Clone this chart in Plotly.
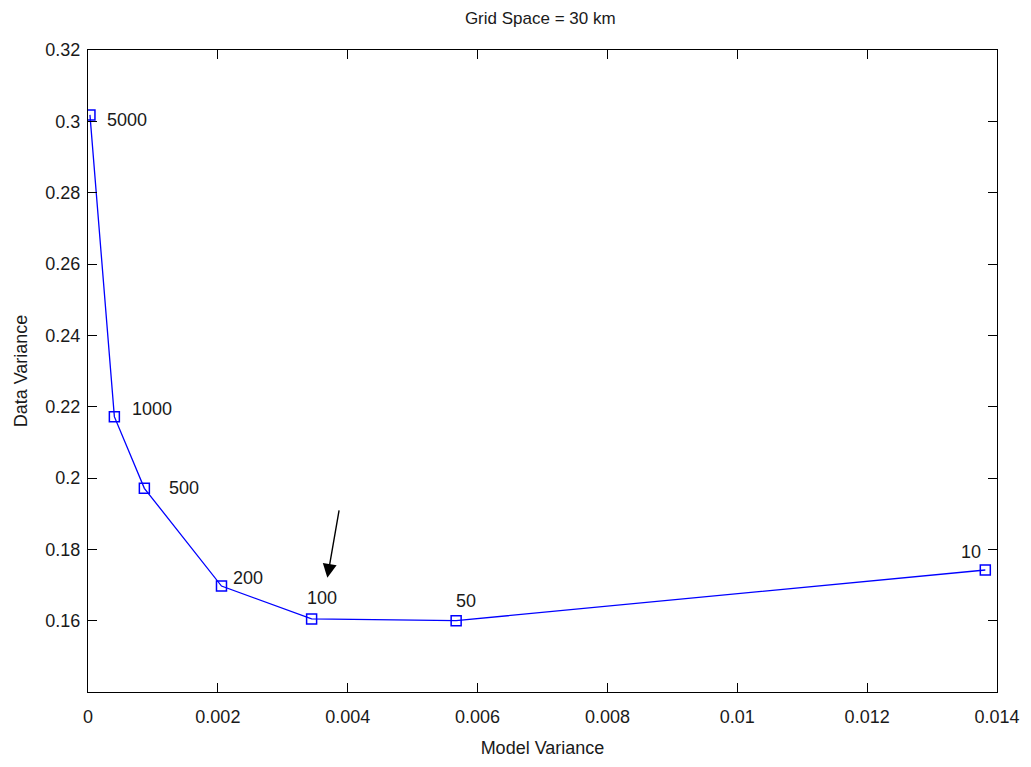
import plotly.graph_objects as go

# L-curve: model variance vs data variance for each damping value
damping = ["5000", "1000", "500", "200", "100", "50", "10"]
model_variance = [0.00003, 0.000406, 0.000868, 0.002056, 0.003444, 0.00567, 0.01382]
data_variance = [0.3018, 0.2172, 0.1971, 0.1697, 0.1605, 0.1600, 0.1742]

x_ticks = [0, 0.002, 0.004, 0.006, 0.008, 0.01, 0.012, 0.014]
x_tick_text = ["0", "0.002", "0.004", "0.006", "0.008", "0.01", "0.012", "0.014"]
y_ticks = [0.16, 0.18, 0.2, 0.22, 0.24, 0.26, 0.28, 0.3, 0.32]
y_tick_text = ["0.16", "0.18", "0.2", "0.22", "0.24", "0.26", "0.28", "0.3", "0.32"]

# pixel offsets of each damping label from its marker (xanchor, xshift, yshift)
label_offsets = {
    "5000": ("left", 15, -5),
    "1000": ("left", 16, 8),
    "500": ("left", 23, 0),
    "200": ("left", 10, 8),
    "100": ("center", 10, 21),
    "50": ("center", 10, 20),
    "10": ("center", -14, 18),
}

FONT = "Liberation Sans"
TEXT = "#1a1a1a"

fig = go.Figure()
fig.add_trace(go.Scatter(
    x=model_variance, y=data_variance,
    mode="lines+markers",
    line=dict(color="#0000ff", width=1.3),
    marker=dict(symbol="square-open", size=10, color="#0000ff",
                line=dict(width=1.5, color="#0000ff")),
    showlegend=False, hoverinfo="skip",
))

annotations = []
for name, xv, yv in zip(damping, model_variance, data_variance):
    anchor, dx, dy = label_offsets[name]
    annotations.append(dict(
        x=xv, y=yv, xref="x", yref="y", text=name, showarrow=False,
        xanchor=anchor, yanchor="middle", xshift=dx, yshift=dy,
        font=dict(family=FONT, size=18, color=TEXT),
    ))

# arrow pointing at the chosen damping value
annotations.append(dict(
    x=0.003686, y=0.1720, xref="x", yref="y", text="",
    showarrow=True, ax=12, ay=-69, axref="pixel", ayref="pixel",
    arrowhead=2, arrowsize=2.0, arrowwidth=1.4, arrowcolor="#000000",
))

axis_common = dict(
    showgrid=False, zeroline=False, showline=True, linecolor="#000000",
    linewidth=1.3, mirror="ticks", ticks="inside", ticklen=9,
    tickwidth=1.3, tickcolor="#000000",
    tickfont=dict(family=FONT, size=18, color=TEXT),
)

fig.update_layout(
    width=1031, height=767,
    paper_bgcolor="#ffffff", plot_bgcolor="#ffffff",
    margin=dict(l=88, r=34, t=50, b=75),
    title=dict(text="Grid Space = 30 km", x=0.524, xanchor="center",
               y=0.977, yanchor="middle",
               font=dict(family=FONT, size=17, color=TEXT)),
    xaxis=dict(range=[0, 0.014], tickvals=x_ticks, ticktext=x_tick_text,
               title=dict(text="Model Variance", standoff=15,
                          font=dict(family=FONT, size=18, color=TEXT)),
               ticklabelstandoff=8, **axis_common),
    yaxis=dict(range=[0.14, 0.32], tickvals=y_ticks, ticktext=y_tick_text,
               title=dict(text="Data Variance", standoff=12,
                          font=dict(family=FONT, size=18, color=TEXT)),
               ticklabelstandoff=3, **axis_common),
    annotations=annotations,
)

fig.write_html("out.html")
